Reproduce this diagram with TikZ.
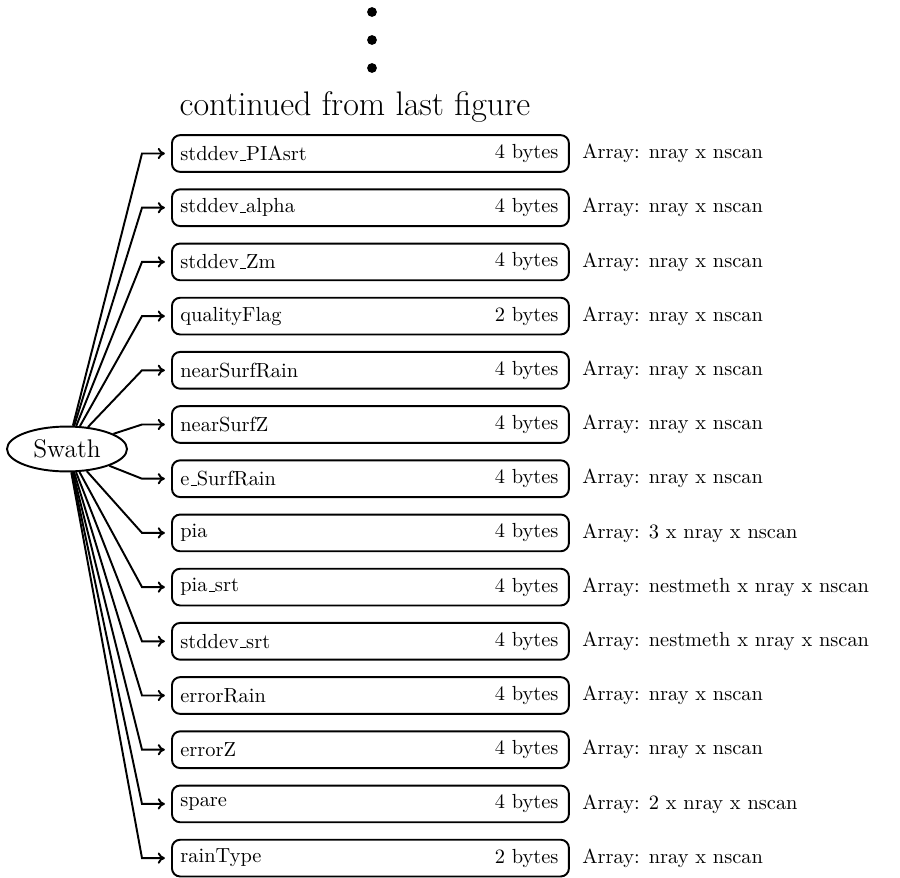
\documentclass[tikz,border=0pt]{standalone}
\usetikzlibrary{shapes.geometric,arrows.meta}
\newcommand{\usc}{\leavevmode\kern.06em\vbox{\hrule width.3em}}
\begin{document}
\begin{tikzpicture}[x=0.49pt,y=-0.49pt,
  fbox/.style={draw,line width=0.95pt,rounded corners=4pt,minimum width=194.5pt,minimum height=18pt,inner sep=0pt,anchor=west},
  ltext/.style={inner sep=0pt,anchor=west,font=\fontsize{10pt}{12pt}\selectfont},
  rtext/.style={inner sep=0pt,anchor=east,font=\fontsize{10pt}{12pt}\selectfont},
  atext/.style={inner sep=0pt,anchor=west,font=\fontsize{10pt}{12pt}\selectfont},
  conn/.style={line width=0.95pt,-{To[length=3.5pt,width=5.5pt]},shorten >=3pt},
  dotst/.style={fill=black,circle,inner sep=0pt,minimum size=4.8pt}]
\useasboundingbox (0,0) rectangle (900,878);
\node[dotst] (d1) at (372,12) {};
\node[dotst] (d2) at (372,40) {};
\node[dotst] (d3) at (372,68) {};
\node[inner sep=0pt,anchor=base,font=\fontsize{16.7pt}{20pt}\selectfont] (cont) at (355,115) {continued from last figure};
\node[draw,line width=0.95pt,ellipse,minimum width=58.8pt,minimum height=22pt,inner sep=0pt,font=\fontsize{12.5pt}{15pt}\selectfont] (sw) at (67,449) {Swath};
\foreach \i/\nm/\sz/\arr in {
 0/stddev\usc PIAsrt/4/nray x nscan,
 1/stddev\usc alpha/4/nray x nscan,
 2/stddev\usc Zm/4/nray x nscan,
 3/qualityFlag/2/nray x nscan,
 4/nearSurfRain/4/nray x nscan,
 5/nearSurfZ/4/nray x nscan,
 6/e\usc SurfRain/4/nray x nscan,
 7/pia/4/3 x nray x nscan,
 8/pia\usc srt/4/nestmeth x nray x nscan,
 9/stddev\usc srt/4/nestmeth x nray x nscan,
 10/errorRain/4/nray x nscan,
 11/errorZ/4/nray x nscan,
 12/spare/4/2 x nray x nscan,
 13/rainType/2/nray x nscan}{
  \pgfmathsetmacro{\yy}{153.5+54.2*\i}
  \node[fbox] (b\i) at (171,\yy) {};
  \node[ltext] (n\i) at ([xshift=4.4pt]b\i.west) {\nm};
  \node[rtext] (s\i) at ([xshift=-5.4pt]b\i.east) {\sz{} bytes};
  \node[atext] (a\i) at (582,\yy) {Array: \arr};
  \coordinate (c\i) at (142,\yy);
  \draw[conn] (sw) -- (c\i) -- (b\i.west);
}
\end{tikzpicture}
\end{document}
